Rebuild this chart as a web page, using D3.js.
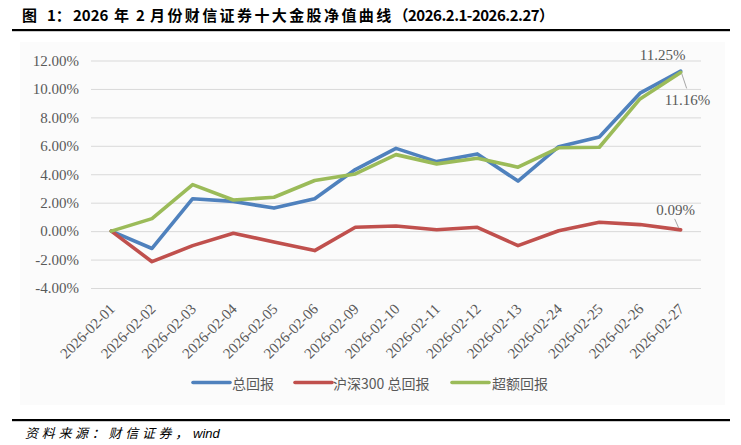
<!DOCTYPE html>
<html><head><meta charset="utf-8">
<script src="https://cdn.jsdelivr.net/npm/d3@7/dist/d3.min.js"></script>
<style>
html,body{margin:0;padding:0;background:#fff;}
svg{display:block;}
</style></head>
<body>
<svg id="chart" width="741" height="445"></svg>
<script>
const dates = ["2026-02-01","2026-02-02","2026-02-03","2026-02-04","2026-02-05","2026-02-06","2026-02-09","2026-02-10","2026-02-11","2026-02-12","2026-02-13","2026-02-24","2026-02-25","2026-02-26","2026-02-27"];
const totalReturn = [0, -1.22, 2.28, 2.09, 1.62, 2.28, 4.33, 5.82, 4.89, 5.43, 3.52, 5.94, 6.62, 9.70, 11.25];
const hs300Return = [0, -2.15, -1.02, -0.15, -0.76, -1.37, 0.27, 0.36, 0.10, 0.27, -1.02, 0.03, 0.62, 0.46, 0.09];
const excessReturn = [0, 0.88, 3.27, 2.19, 2.38, 3.56, 4.02, 5.38, 4.73, 5.13, 4.50, 5.86, 5.90, 9.30, 11.16];
const seriesNames = ["总回报", "沪深300 总回报", "超额回报"];
const seriesColors = ["#4f81bd", "#c0504d", "#9bbb59"];
const yTicks = [-4, -2, 0, 2, 4, 6, 8, 10, 12];

const svg = d3.select("#chart");
const grey = "#595959";
const serif = "'Liberation Serif','Times New Roman',serif";
const cjk = "'Noto Sans CJK SC','Noto Sans',sans-serif";

// chart area background
svg.append("rect").attr("x",20).attr("y",42).attr("width",705).attr("height",363).attr("fill","#fbfbfb");

// title
const title = svg.append("text").attr("y",21).attr("font-family",cjk).attr("font-weight","bold")
  .attr("font-size",15).attr("fill","#000");
const titleParts = [
  {t:"图", x:22, ls:0},
  {t:"1：", x:47, ls:0},
  {t:"2026", x:73, ls:0},
  {t:"年", x:114, ls:0},
  {t:"2", x:136, ls:0},
  {t:"月份财信证券十大金股净值曲线（", x:150, ls:2.4},
  {t:"2026.2.1-2026.2.27", x:408, ls:-0.5},
  {t:"）", x:null, ls:0}
];
titleParts.forEach(p=>{
  const ts = title.append("tspan").style("letter-spacing",p.ls+"px").text(p.t);
  if (p.x !== null) ts.attr("x",p.x);
});
svg.append("rect").attr("x",12).attr("y",29).attr("width",718).attr("height",2.2).attr("fill","#000");

// scales
const x = d3.scalePoint().domain(dates).range([91,701]).padding(0.5);
const y = d3.scaleLinear().domain([-4,12]).range([288,60.5]);

// y axis with grid
const yAxis = d3.axisLeft(y).tickValues(yTicks).tickSize(-(701-91)).tickPadding(12)
  .tickFormat(d => d.toFixed(2) + "%");
const gy = svg.append("g").attr("transform","translate(91,0)").call(yAxis);
gy.select(".domain").remove();
gy.selectAll(".tick line").attr("stroke","#d9d9d9").attr("stroke-width",1);
gy.selectAll(".tick text").attr("font-family",serif).attr("font-size",15).attr("fill",grey);

// x axis labels
const xAxis = d3.axisBottom(x).tickSize(0).tickPadding(0);
const gx = svg.append("g").call(xAxis);
gx.select(".domain").remove();
gx.selectAll(".tick text")
  .attr("font-family",serif).attr("font-size",15).attr("fill",grey)
  .attr("text-anchor","end").attr("dy",null).attr("y",null)
  .attr("transform","translate(4,310) rotate(-45)");

// lines
const allSeries = [totalReturn, hs300Return, excessReturn];
const line = d3.line().x((d,i)=>x(dates[i])).y(d=>y(d));
allSeries.forEach((s,k)=>{
  svg.append("path").datum(s).attr("d",line).attr("fill","none")
    .attr("stroke",seriesColors[k]).attr("stroke-width",3.6)
    .attr("stroke-linejoin","round").attr("stroke-linecap","round");
});

// data labels on last point
const last = dates.length-1;
const lx = x(dates[last]);
const lab = svg.append("g").attr("font-family",serif).attr("font-size",15).attr("fill",grey);
lab.append("text").attr("x",lx-18).attr("y",y(totalReturn[last])-11).attr("text-anchor","middle")
  .text(totalReturn[last].toFixed(2)+"%");
lab.append("line").attr("x1",lx+1).attr("y1",y(excessReturn[last])+1).attr("x2",lx+6).attr("y2",y(excessReturn[last])+16)
  .attr("stroke","#a6a6a6").attr("stroke-width",1);
lab.append("text").attr("x",lx-16).attr("y",y(excessReturn[last])+33).attr("text-anchor","start")
  .text(excessReturn[last].toFixed(2)+"%");
lab.append("line").attr("x1",lx-6).attr("y1",y(hs300Return[last])-11).attr("x2",lx-2).attr("y2",y(hs300Return[last])-2)
  .attr("stroke","#a6a6a6").attr("stroke-width",1);
lab.append("text").attr("x",lx-5).attr("y",y(hs300Return[last])-15).attr("text-anchor","middle")
  .text(hs300Return[last].toFixed(2)+"%");

// legend
const legendPos = [{lx:193, tx:232},{lx:295, tx:333},{lx:452, tx:492}];
const lg = svg.append("g");
seriesNames.forEach((n,k)=>{
  lg.append("line").attr("x1",legendPos[k].lx).attr("x2",legendPos[k].lx+37).attr("y1",382.5).attr("y2",382.5)
    .attr("stroke",seriesColors[k]).attr("stroke-width",3.6).attr("stroke-linecap","round");
  lg.append("text").attr("x",legendPos[k].tx).attr("y",383).attr("dominant-baseline","central")
    .attr("font-family",cjk).attr("font-size",14).attr("fill",grey).text(n);
});

// bottom rule and source
svg.append("rect").attr("x",12).attr("y",419).attr("width",718).attr("height",2.2).attr("fill","#000");
const src = svg.append("text").attr("y",438).attr("font-family",cjk).attr("font-size",13)
  .attr("font-style","italic").attr("fill","#000");
src.append("tspan").attr("x",25).style("letter-spacing","3.7px").text("资料来源：财信证券，");
src.append("tspan").attr("x",193).attr("font-family","'Liberation Sans',Arial,sans-serif").text("wind");
</script>
</body></html>
